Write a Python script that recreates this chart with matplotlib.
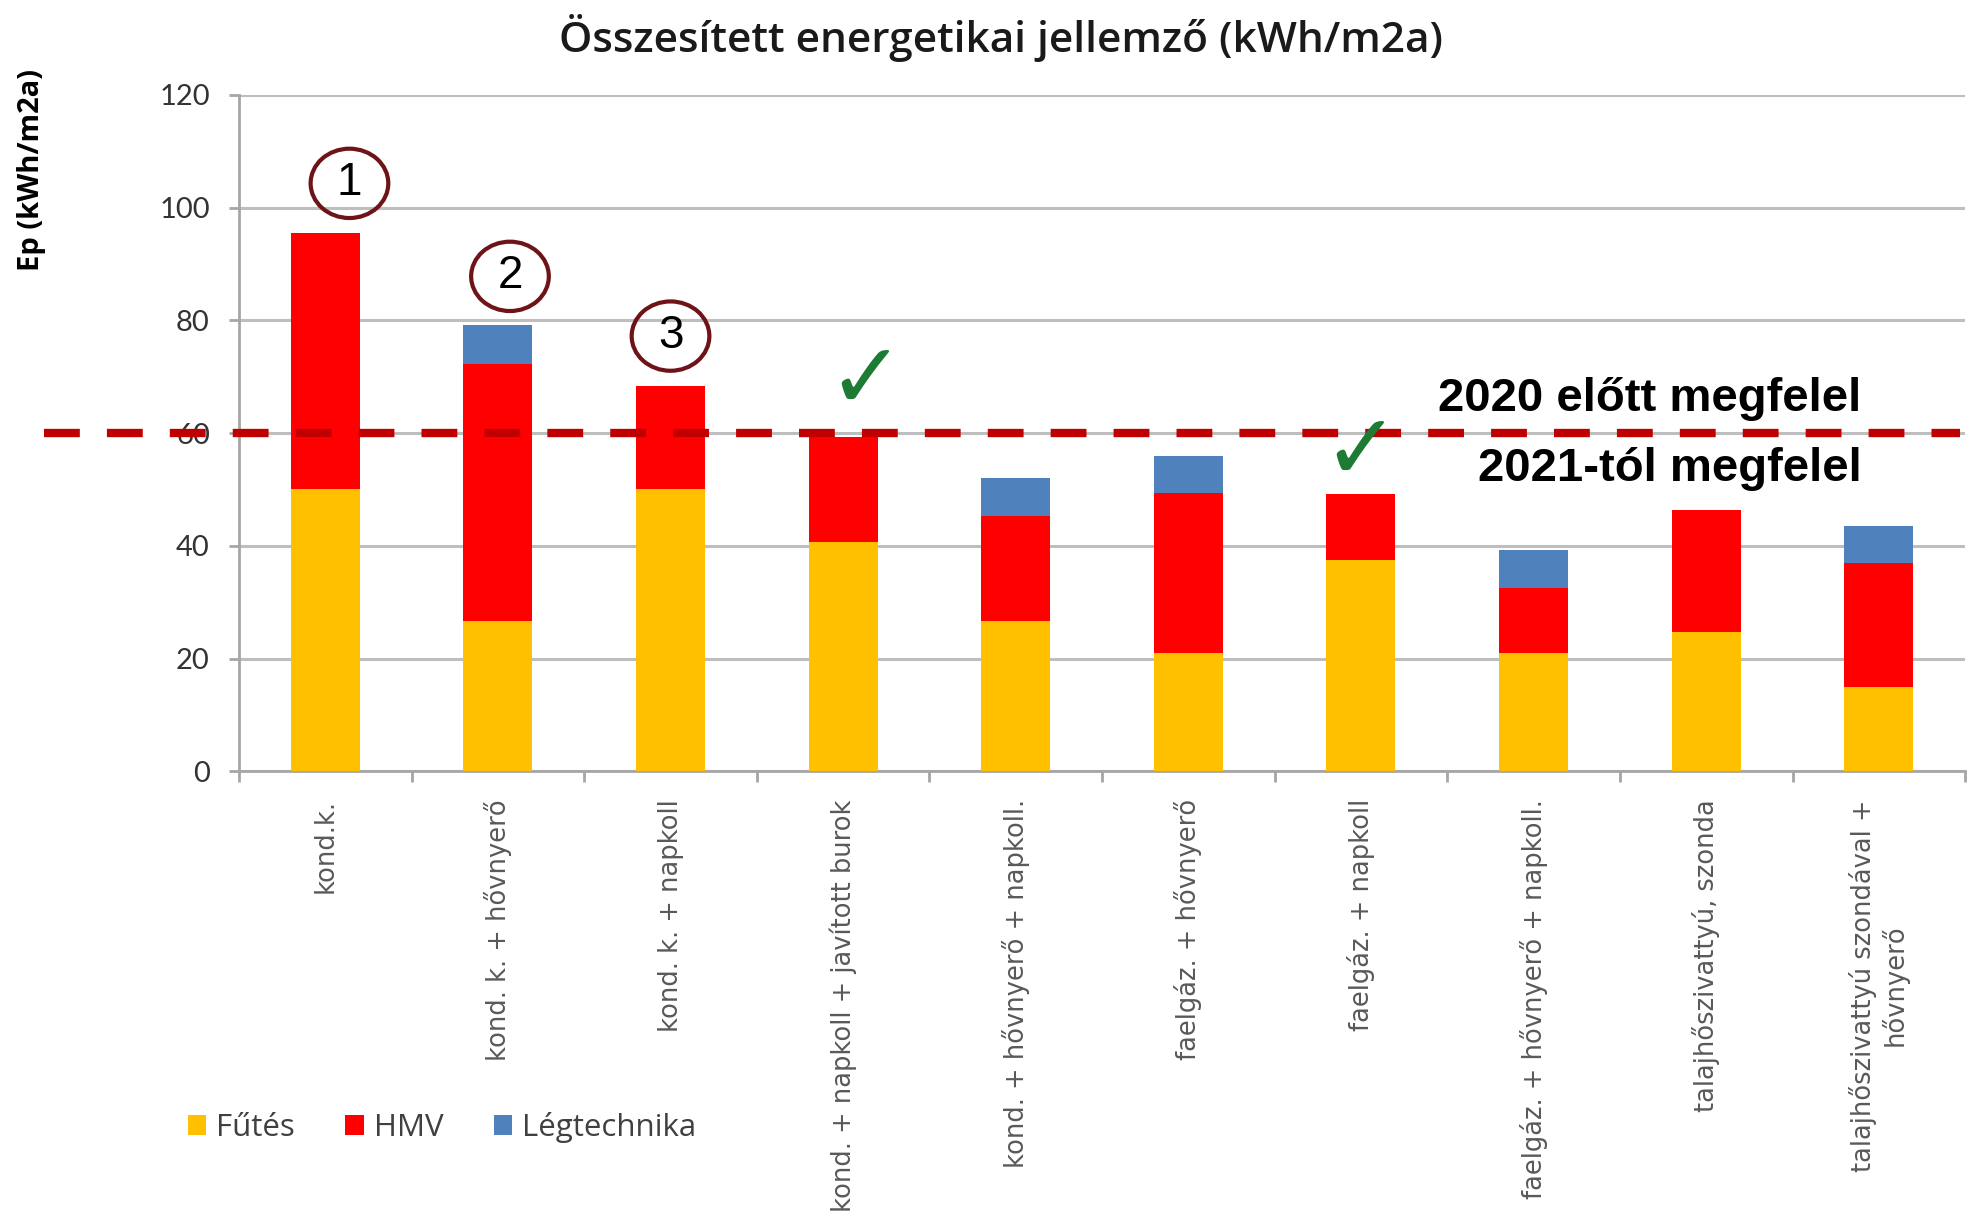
import matplotlib
matplotlib.use("Agg")
import matplotlib.pyplot as plt
from matplotlib.patches import Ellipse
import numpy as np

# Adatok
kategoriak = [
    "kond.k.",
    "kond. k. + hővnyerő",
    "kond. k. + napkoll",
    "kond. + napkoll + javított burok",
    "kond. + hővnyerő + napkoll.",
    "faelgáz. + hővnyerő",
    "faelgáz. + napkoll",
    "faelgáz. + hővnyerő + napkoll.",
    "talajhőszivattyú, szonda",
    "talajhőszivattyú szondával +\nhővnyerő",
]
futes = [50.0, 26.7, 50.0, 40.6, 26.7, 21.0, 37.4, 21.0, 24.7, 15.0]
hmv = [45.5, 45.6, 18.3, 18.7, 18.6, 28.3, 11.7, 11.5, 21.7, 21.9]
legtechnika = [0.0, 6.8, 0.0, 0.0, 6.7, 6.7, 0.0, 6.7, 0.0, 6.6]
sorozat_nevek = ["Fűtés", "HMV", "Légtechnika"]
szinek = ["#FFC000", "#FF0000", "#4F81BD"]

hatarertek = 60  # követelmény (kWh/m2a)
kor_x = [0.14, 1.07, 2.0]  # bekarikázott 1, 2, 3 jelölés helye
kor_y = [104.3, 87.8, 77.2]
pipa_x = [3.13, 6.0]  # zöld pipák
pipa_y = [68.9, 56.3]

fig = plt.figure(figsize=(19.75, 12.32), dpi=100)
ax = fig.add_axes([0.121, 0.374, 0.874, 0.549])

x = np.arange(len(kategoriak))
also = np.zeros(len(kategoriak))
for ertekek, nev, szin in zip([futes, hmv, legtechnika], sorozat_nevek, szinek):
    ax.bar(x, ertekek, width=0.4, bottom=also, color=szin, label=nev, zorder=3)
    also += np.array(ertekek)

# tengelyek
ax.set_xlim(-0.5, len(kategoriak) - 0.5)
ax.set_ylim(0, 120)
ax.set_yticks(np.arange(0, 121, 20))
ax.yaxis.grid(True, color="#BEBEBE", linewidth=2.2, zorder=0)
for s in ["top", "right"]:
    ax.spines[s].set_visible(False)
for s in ["left", "bottom"]:
    ax.spines[s].set_color("#A6A6A6")
    ax.spines[s].set_linewidth(2)
ax.tick_params(axis="y", length=7, width=2, color="#A6A6A6", pad=14,
               labelsize=21, labelcolor="#333333")
for t in ax.get_yticklabels():
    t.set_fontfamily("Lato")

ax.set_xticks(x)
ax.set_xticklabels(kategoriak, rotation=90, va="top", ha="center",
                   multialignment="center", fontsize=18.5, color="#595959",
                   family="DejaVu Sans")
ax.set_xticks(np.arange(-0.5, len(kategoriak), 1), minor=True)
ax.tick_params(axis="x", which="major", length=0, pad=20)
ax.tick_params(axis="x", which="minor", length=8, width=2, color="#A6A6A6")

fig.text(0.507, 0.969, "Összesített energetikai jellemző (kWh/m2a)", ha="center",
         va="center", fontsize=30.5, fontweight="semibold", family="Open Sans",
         color="#1a1a1a")
fig.text(0.016, 0.862, "Ep (kWh/m2a)", rotation=90, ha="center", va="center",
         fontsize=21, fontweight="bold", family="Open Sans")

# határérték vonal
ax.plot([-0.113, 0.997], [hatarertek, hatarertek], transform=ax.get_yaxis_transform(),
        color="#C00000", linewidth=6, dashes=(4.3, 3.25), clip_on=False, zorder=5)

narrow = ["Liberation Sans Narrow", "Liberation Sans", "DejaVu Sans"]
ax.text(0.940, 66.1, "2020 előtt megfelel", transform=ax.get_yaxis_transform(),
        ha="right", va="center", fontsize=34, fontweight="bold", family=narrow)
ax.text(0.940, 53.6, "2021-tól megfelel", transform=ax.get_yaxis_transform(),
        ha="right", va="center", fontsize=34, fontweight="bold", family=narrow)

# bekarikázott számok
for n, (cx, cy) in enumerate(zip(kor_x, kor_y)):
    ax.add_patch(Ellipse((cx, cy), 0.45, 12.3, fill=False, edgecolor="#6E1418",
                         linewidth=3, zorder=6, clip_on=False))
    ax.text(cx, cy, str(n + 1), ha="center", va="center", fontsize=33,
            family="Liberation Sans", zorder=7)

# pipák
for px, py in zip(pipa_x, pipa_y):
    ax.text(px, py, "\u2713", ha="center", va="center", fontsize=66,
            color="#1E7B34", family="DejaVu Sans", fontweight="bold", zorder=7)

leg = fig.legend(loc="center left", bbox_to_anchor=(0.095, 0.085), ncol=3,
                 frameon=False, handlelength=0.6, handleheight=0.6,
                 handletextpad=0.32, columnspacing=1.6, borderpad=0, borderaxespad=0,
                 prop={"family": "Open Sans", "size": 22.5})
for t in leg.get_texts():
    t.set_color("#404040")

fig.savefig("out.png", dpi=100)
